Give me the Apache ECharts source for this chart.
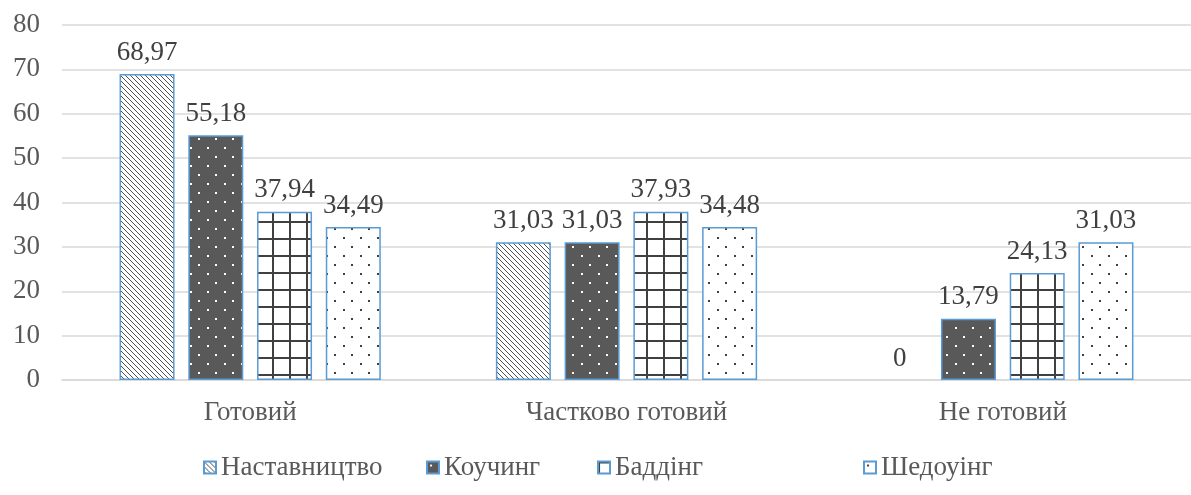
<!DOCTYPE html>
<html>
<head>
<meta charset="utf-8">
<script src="https://cdn.jsdelivr.net/npm/echarts@6/dist/echarts.min.js"></script>
<style>
  html, body { margin: 0; padding: 0; background: #fff; }
  #chart { width: 1191px; height: 495px; }
</style>
</head>
<body>
<div id="chart"></div>
<script>
// data
var categories = ['Готовий', 'Частково готовий', 'Не готовий'];
var seriesNames = ['Наставництво', 'Коучинг', 'Баддінг', 'Шедоуінг'];
var mentoring = [68.97, 31.03, 0];
var coaching = [55.18, 31.03, 13.79];
var buddying = [37.94, 37.93, 24.13];
var shadowing = [34.49, 34.48, 31.03];
var yTicks = [0, 10, 20, 30, 40, 50, 60, 70, 80];

var FONT = 'Liberation Serif';
var FS = 27;
var BORDER = '#5B9BD5';

// patterns
function tile(w, h, draw) {
    var c = document.createElement('canvas');
    c.width = w; c.height = h;
    var ctx = c.getContext('2d');
    draw(ctx, w, h);
    return { image: c, repeat: 'repeat' };
}

var diagPattern = tile(5, 5, function (ctx, w, h) {
    ctx.fillStyle = '#fff';
    ctx.fillRect(0, 0, w, h);
    ctx.strokeStyle = '#505050';
    ctx.lineWidth = 1;
    ctx.beginPath();
    ctx.moveTo(-1, -1); ctx.lineTo(w + 1, h + 1);
    ctx.moveTo(-1, h - 1); ctx.lineTo(1, h + 1);
    ctx.moveTo(w - 1, -1); ctx.lineTo(w + 1, 1);
    ctx.stroke();
});

var darkDots = tile(17, 18, function (ctx, w, h) {
    ctx.fillStyle = '#595959';
    ctx.fillRect(0, 0, w, h);
    ctx.fillStyle = '#fff';
    ctx.fillRect(3, 3, 2, 2);
    ctx.fillRect(11, 12, 2, 2);
});

var gridPattern = tile(17, 17, function (ctx, w, h) {
    ctx.fillStyle = '#fff';
    ctx.fillRect(0, 0, w, h);
    ctx.fillStyle = '#404040';
    ctx.fillRect(0, 0, 2, h);
    ctx.fillRect(0, 0, w, 2);
});

var lightDots = tile(17, 18, function (ctx, w, h) {
    ctx.fillStyle = '#fff';
    ctx.fillRect(0, 0, w, h);
    ctx.fillStyle = '#404040';
    ctx.fillRect(3, 3, 2, 2);
    ctx.fillRect(11, 12, 2, 2);
});

var fills = [diagPattern, darkDots, gridPattern, lightDots];
var values = [mentoring, coaching, buddying, shadowing];
var legendLeft = [203, 426, 597, 863];

var chart = echarts.init(document.getElementById('chart'));

var series = seriesNames.map(function (name, i) {
    return {
        name: name,
        type: 'bar',
        data: values[i].map(function (v) {
            return v === 0 ? { value: v, itemStyle: { borderWidth: 0 } } : v;
        }),
        barWidth: 55,
        barGap: '25%',
        itemStyle: {
            color: fills[i],
            borderColor: BORDER,
            borderWidth: 1.5
        },
        label: {
            show: true,
            position: 'top',
            distance: 8,
            color: '#404040',
            fontFamily: FONT,
            fontSize: FS,
            formatter: function (p) {
                return String(p.value).replace('.', ',');
            }
        },
        emphasis: { disabled: true }
    };
});

var legends = seriesNames.map(function (name, i) {
    return {
        data: [name],
        left: legendLeft[i],
        top: 454,
        padding: 0,
        itemWidth: 12,
        itemHeight: 12,
        icon: 'rect',
        textStyle: { fontFamily: FONT, fontSize: FS, color: '#595959' }
    };
});

var option = {
    animation: false,
    legend: legends,
    grid: {
        left: 62,
        top: 25,
        width: 1143,
        height: 355,
        containLabel: false
    },
    xAxis: {
        type: 'category',
        data: categories,
        axisLine: { show: true, lineStyle: { color: '#d9d9d9', width: 1.5 } },
        axisTick: { show: false },
        axisLabel: {
            margin: 19,
            color: '#595959',
            fontFamily: FONT,
            fontSize: FS
        }
    },
    yAxis: {
        type: 'value',
        min: yTicks[0],
        max: yTicks[yTicks.length - 1],
        interval: 10,
        axisLine: { show: false },
        axisTick: { show: false },
        axisLabel: {
            margin: 22,
            color: '#595959',
            fontFamily: FONT,
            fontSize: FS
        },
        splitLine: { lineStyle: { color: '#d9d9d9', width: 1.5 } }
    },
    series: series
};

chart.setOption(option);
</script>
</body>
</html>
